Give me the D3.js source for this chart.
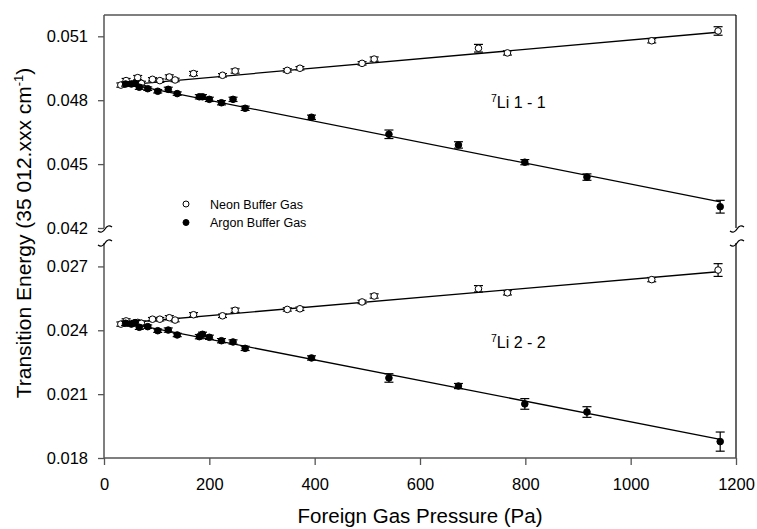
<!DOCTYPE html>
<html>
<head>
<meta charset="utf-8">
<script src="https://cdn.jsdelivr.net/npm/d3@7"></script>
<style>
  body { margin: 0; background: #fff; }
  svg { display: block; font-family: "Liberation Sans", Arial, sans-serif; }
</style>
</head>
<body>
<svg id="chart" width="757" height="529"></svg>
<script>
// pressures (Pa)
const neonP = [32, 42, 64, 71, 92, 106, 124, 135, 170, 225, 249, 348, 372, 490, 513, 711, 766, 1040, 1166];
const argonP = [41, 52, 59, 67, 83, 102, 122, 139, 181, 187, 200, 223, 245, 268, 394, 541, 673, 799, 917, 1170];

// transition energies (35 012.xxx cm-1)
const neon11 = [0.04871, 0.04892, 0.04906, 0.04879, 0.04898, 0.04892, 0.04909, 0.04895, 0.04925, 0.04917, 0.04937,
  0.04940, 0.04950, 0.04973, 0.04993, 0.05044, 0.05022, 0.05079, 0.05125];
const neon11Err = [0.0001, 0.0001, 0.0001, 0.0001, 0.00008, 0.00008, 0.0001, 0.00008, 0.0001, 0.00008, 0.0001,
  0.00008, 0.00008, 0.00008, 0.0001, 0.00018, 0.0001, 0.0001, 0.0002];
const argon11 = [0.04876, 0.04876, 0.04879, 0.04861, 0.04854, 0.04842, 0.04851, 0.04831, 0.04816, 0.04816, 0.04804,
  0.04788, 0.04804, 0.04762, 0.0472, 0.0464, 0.0459, 0.04509, 0.04439, 0.0430];
const argon11Err = [0.0001, 0.0001, 0.0001, 0.0001, 0.00008, 0.00008, 0.0001, 0.00008, 0.0001, 0.0001, 0.0001,
  0.0001, 0.0001, 0.0001, 0.0001, 0.0002, 0.00015, 0.00012, 0.00015, 0.0003];

const neon22 = [0.02429, 0.02444, 0.02437, 0.02433, 0.02452, 0.02452, 0.02459, 0.02448, 0.02473, 0.02468, 0.02494,
  0.02498, 0.02501, 0.02533, 0.02561, 0.02595, 0.02576, 0.02638, 0.02683];
const neon22Err = [0.0001, 0.0001, 0.0001, 0.0001, 0.00008, 0.00008, 0.0001, 0.00008, 0.0001, 0.00008, 0.0001,
  0.00008, 0.00008, 0.00008, 0.0001, 0.00015, 0.0001, 0.0001, 0.0003];
const argon22 = [0.02433, 0.02429, 0.02436, 0.02414, 0.02417, 0.02398, 0.02401, 0.02378, 0.0237, 0.02381, 0.02367,
  0.02351, 0.02345, 0.02315, 0.0227, 0.02176, 0.02138, 0.02054, 0.02016, 0.01877];
const argon22Err = [0.0001, 0.0001, 0.0001, 0.0001, 0.00008, 0.00008, 0.0001, 0.00008, 0.0001, 0.0001, 0.0001,
  0.0001, 0.0001, 0.0001, 0.0001, 0.0002, 0.00012, 0.00025, 0.00025, 0.00045];

// fitted lines: [p0, e0, p1, e1]
const fitNeon11 = [32, 0.0487, 1166, 0.05119];
const fitArgon11 = [32, 0.04882, 1170, 0.04323];
const fitNeon22 = [32, 0.02433, 1166, 0.02675];
const fitArgon22 = [32, 0.02439, 1170, 0.01888];

const xTicks = [0, 200, 400, 600, 800, 1000, 1200];
const yTicksTop = [0.042, 0.045, 0.048, 0.051];
const yTicksBot = [0.018, 0.021, 0.024, 0.027];

const svg = d3.select('#chart');
const plotLeft = 104, plotRight = 736, plotTop = 15, plotBottom = 458;
const x = d3.scaleLinear().domain([0, 1200]).range([plotLeft, plotRight]);
const yTop = d3.scaleLinear().domain([0.042, 0.052]).range([228, plotTop]);
const yBot = d3.scaleLinear().domain([0.018, 0.0281]).range([plotBottom, 243]);
const axisColor = '#555';

// frame
svg.append('line').attr('x1', plotLeft).attr('x2', plotRight).attr('y1', plotTop).attr('y2', plotTop)
  .attr('stroke', '#000').attr('stroke-width', 1.2);
[[plotTop, 228], [243, plotBottom]].forEach(([a, b]) => {
  svg.append('line').attr('x1', plotLeft).attr('x2', plotLeft).attr('y1', a).attr('y2', b)
    .attr('stroke', axisColor).attr('stroke-width', 1.5);
  svg.append('line').attr('x1', plotRight).attr('x2', plotRight).attr('y1', a).attr('y2', b)
    .attr('stroke', '#000').attr('stroke-width', 1.2);
});
svg.append('line').attr('x1', plotLeft).attr('x2', plotRight).attr('y1', plotBottom).attr('y2', plotBottom)
  .attr('stroke', axisColor).attr('stroke-width', 1.5);

// break marks
function breakMark(cx, cy) {
  svg.append('path')
    .attr('d', `M${cx - 7},${cy + 2} Q${cx - 3},${cy + 5} ${cx},${cy} Q${cx + 3},${cy - 5} ${cx + 7},${cy - 2}`)
    .attr('fill', 'none').attr('stroke', '#000').attr('stroke-width', 1.3);
}
[plotLeft, plotRight].forEach(cx => { breakMark(cx + 1, 229); breakMark(cx + 1, 243); });

function styleAxis(g) {
  g.select('.domain').remove();
  g.selectAll('.tick line').attr('stroke', axisColor).attr('stroke-width', 1.3);
  g.selectAll('.tick text').attr('fill', '#000').attr('font-size', '16.5px')
    .attr('font-family', '"Liberation Sans", Arial, sans-serif');
}

svg.append('g').attr('transform', `translate(${plotLeft},0)`)
  .call(d3.axisLeft(yTop).tickValues(yTicksTop).tickFormat(d3.format('.3f')).tickSize(6).tickPadding(10))
  .call(styleAxis);
svg.append('g').attr('transform', `translate(${plotLeft},0)`)
  .call(d3.axisLeft(yBot).tickValues(yTicksBot).tickFormat(d3.format('.3f')).tickSize(6).tickPadding(10))
  .call(styleAxis);
svg.append('g').attr('transform', `translate(0,${plotBottom})`)
  .call(d3.axisBottom(x).tickValues(xTicks).tickFormat(d3.format('d')).tickSize(7).tickPadding(13))
  .call(styleAxis);

// fit lines
function drawFit(fit, y) {
  svg.append('line')
    .attr('x1', x(fit[0])).attr('y1', y(fit[1]))
    .attr('x2', x(fit[2])).attr('y2', y(fit[3]))
    .attr('stroke', '#000').attr('stroke-width', 1.3);
}
drawFit(fitNeon11, yTop);
drawFit(fitArgon11, yTop);
drawFit(fitNeon22, yBot);
drawFit(fitArgon22, yBot);

// points with error bars
function drawSeries(ps, vals, errs, y, filled) {
  const data = ps.map((p, i) => ({p, v: vals[i], e: errs[i]}));
  const g = svg.append('g');
  const bars = g.selectAll('.err').data(data).enter().append('g');
  bars.append('line')
    .attr('x1', d => x(d.p)).attr('x2', d => x(d.p))
    .attr('y1', d => y(d.v + d.e)).attr('y2', d => y(d.v - d.e))
    .attr('stroke', '#000').attr('stroke-width', 1.2);
  [1, -1].forEach(s => {
    bars.append('line')
      .attr('x1', d => x(d.p) - 4.5).attr('x2', d => x(d.p) + 4.5)
      .attr('y1', d => y(d.v + s * d.e)).attr('y2', d => y(d.v + s * d.e))
      .attr('stroke', '#000').attr('stroke-width', 1.2);
  });
  g.selectAll('circle').data(data).enter().append('circle')
    .attr('cx', d => x(d.p)).attr('cy', d => y(d.v))
    .attr('r', 3.3)
    .attr('fill', filled ? '#000' : '#fff')
    .attr('stroke', '#000').attr('stroke-width', 1);
}
drawSeries(neonP, neon11, neon11Err, yTop, false);
drawSeries(argonP, argon11, argon11Err, yTop, true);
drawSeries(neonP, neon22, neon22Err, yBot, false);
drawSeries(argonP, argon22, argon22Err, yBot, true);

// panel labels
function panelLabel(px, py, txt) {
  const t = svg.append('text').attr('x', px).attr('y', py).attr('font-size', '16px').attr('fill', '#000');
  t.append('tspan').attr('font-size', '10.5px').attr('dy', '-6').text('7');
  t.append('tspan').attr('dy', '6').text(txt);
}
panelLabel(491, 108, 'Li 1 - 1');
panelLabel(491, 348, 'Li 2 - 2');

// legend
const legend = [{label: 'Neon Buffer Gas', filled: false, cy: 204}, {label: 'Argon Buffer Gas', filled: true, cy: 222.5}];
legend.forEach(l => {
  svg.append('circle').attr('cx', 186).attr('cy', l.cy).attr('r', 3)
    .attr('fill', l.filled ? '#000' : '#fff').attr('stroke', '#000').attr('stroke-width', 1);
  svg.append('text').attr('x', 210).attr('y', l.cy + 4.5).attr('font-size', '12.5px').text(l.label);
});

// axis titles
svg.append('text')
  .attr('x', (plotLeft + plotRight) / 2).attr('y', 523)
  .attr('text-anchor', 'middle').attr('font-size', '20.5px')
  .text('Foreign Gas Pressure (Pa)');

const yt = svg.append('text')
  .attr('transform', 'translate(31,233) rotate(-90)')
  .attr('text-anchor', 'middle').attr('font-size', '21px');
yt.append('tspan').text('Transition Energy (35 012.xxx cm');
yt.append('tspan').attr('font-size', '13px').attr('dy', '-8').text('-1');
yt.append('tspan').attr('dy', '8').text(')');
</script>
</body>
</html>
